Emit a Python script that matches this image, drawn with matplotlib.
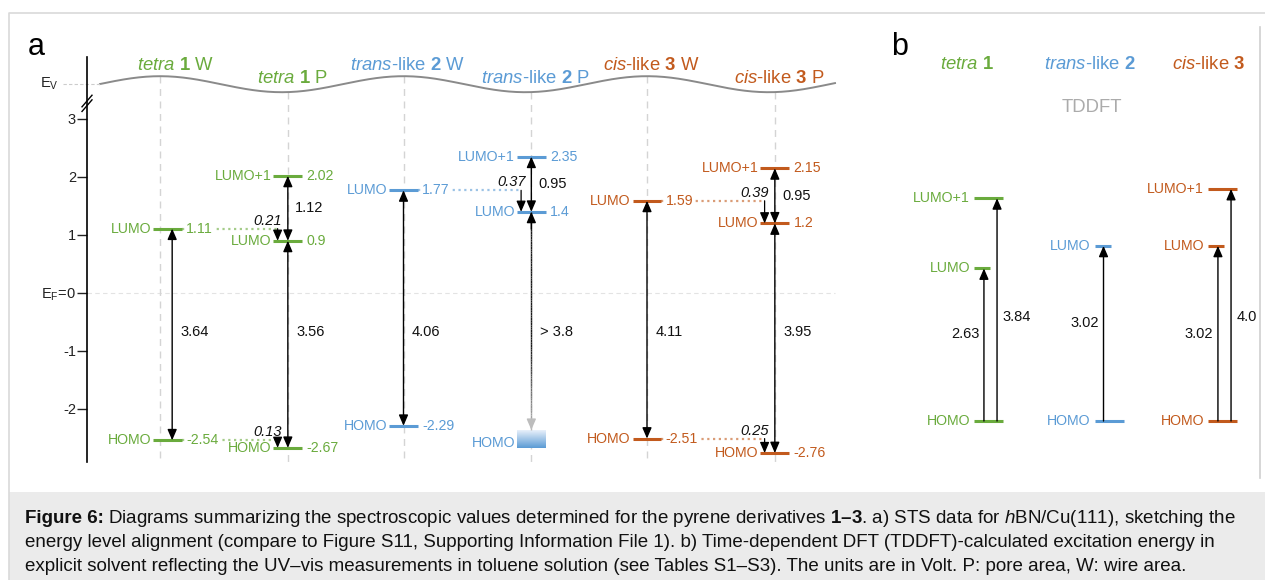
import numpy as np
import matplotlib
matplotlib.use("Agg")
import matplotlib.pyplot as plt
from matplotlib.colors import LinearSegmentedColormap
from matplotlib.collections import LineCollection

plt.rcParams["font.family"] = ["Liberation Sans", "DejaVu Sans"]
plt.rcParams["mathtext.fontset"] = "custom"
plt.rcParams["mathtext.rm"] = "Liberation Sans"
plt.rcParams["mathtext.it"] = "Liberation Sans:italic"
plt.rcParams["mathtext.bf"] = "Liberation Sans:bold"

# ---- panel a: STS data, levels in V relative to E_F ----
sts_titles = [r"$\mathit{tetra}$ $\mathbf{1}$ W", r"$\mathit{tetra}$ $\mathbf{1}$ P",
              r"$\mathit{trans}$-like $\mathbf{2}$ W", r"$\mathit{trans}$-like $\mathbf{2}$ P",
              r"$\mathit{cis}$-like $\mathbf{3}$ W", r"$\mathit{cis}$-like $\mathbf{3}$ P"]
sts_lumo = [1.11, 0.9, 1.77, 1.4, 1.59, 1.2]
sts_homo = [-2.54, -2.67, -2.29, None, -2.51, -2.76]
sts_lumo1 = [None, 2.02, None, 2.35, None, 2.15]
sts_gap = ["3.64", "3.56", "4.06", "> 3.8", "4.11", "3.95"]
sts_lumo1_gap = [None, "1.12", None, "0.95", None, "0.95"]
lumo_shift = ["0.21", "0.37", "0.39"]
homo_shift = ["0.13", None, "0.25"]
trans_p_homo_band = [-2.36, -2.67]

# ---- panel b: TDDFT excitation energies (V, from HOMO) ----
td_titles = [r"$\mathit{tetra}$ $\mathbf{1}$", r"$\mathit{trans}$-like $\mathbf{2}$",
             r"$\mathit{cis}$-like $\mathbf{3}$"]
td_lumo = [2.63, 3.02, 3.02]
td_lumo1 = [3.84, None, 4.0]
td_lumo1_label = ["3.84", None, "4.0"]

colors = ["#6AAB3D", "#5B9BD5", "#C25A1D"]

W, H = 1265, 580
fig = plt.figure(figsize=(W / 100, H / 100), dpi=100)
renderer = fig.canvas.get_renderer()


def frac(x0, x1, y0, y1):
    return [x0 / W, 1 - y1 / H, (x1 - x0) / W, (y1 - y0) / H]


# background: frame, caption box, panel letters
bg = fig.add_axes([0, 0, 1, 1])
bg.set_xlim(0, W)
bg.set_ylim(H, 0)
bg.axis("off")
bg.add_patch(plt.Rectangle((9, 492), W - 9, H - 492, fc="#ebebeb", ec="none"))
bg.plot([9, 9, W], [H, 13, 13], color="#d9d9d9", lw=1.2)
bg.plot([1260, 1260], [27, 478], color="#cfcfcf", lw=1.2)
bg.text(36, 47, "a", fontsize=22, ha="center", va="center")
bg.text(900, 47, "b", fontsize=22, ha="center", va="center")

cap_fs = 13.5
head = bg.text(25, 523, "Figure 6:", fontsize=cap_fs, fontweight="bold", ha="left", va="baseline",
               color="#111111")
hw_px = head.get_window_extent(renderer=renderer).width
caption = [
    r"Diagrams summarizing the spectroscopic values determined for the pyrene derivatives "
    r"$\mathbf{1}$$\mathbf{–}$$\mathbf{3}$. a) STS data for $\mathit{h}$BN/Cu(111), sketching the",
    "energy level alignment (compare to Figure S11, Supporting Information File 1). b) Time-dependent DFT (TDDFT)-calculated excitation energy in",
    "explicit solvent reflecting the UV–vis measurements in toluene solution (see Tables S1–S3). The units are in Volt. P: pore area, W: wire area.",
]
for k, line in enumerate(caption):
    xs0 = 25 + (hw_px + 4 if k == 0 else 0)
    bg.text(xs0, 523 + 24 * k, line, fontsize=cap_fs, ha="left", va="baseline", color="#111111")

arrow2 = "<|-|>,head_length=0.65,head_width=0.28"
arrow1 = "-|>,head_length=0.65,head_width=0.28"

# ================= panel a =================
PX_E = 58.0
PX_A = 121.75
ax = fig.add_axes(frac(87, 845, 30, 470))
ax.patch.set_alpha(0)
for s in ["top", "right", "bottom"]:
    ax.spines[s].set_visible(False)
ax.spines["left"].set_bounds(-2.92, 4.07)
ax.spines["left"].set_linewidth(1.2)
ax.set_xticks([])
ax.set_yticks([-2, -1, 0, 1, 2, 3])
ax.set_yticklabels(["-2", "-1", r"E$_\mathrm{F}$=0", "1", "2", "3"])
ax.tick_params(axis="y", direction="out", length=7, width=1, pad=1, labelsize=10.5, colors="#222222")

x0 = (87 - 160) / PX_A
col_x = [0, 1.05, 2, 3.05, 4, 5.05]
bar_dx = [0.06, 0, 0, 0, 0, 0]
arr_dx = [0.1, 0, 0, 0, 0, 0]
hw = 0.119

# vacuum level wave, E_V and E_F guides, axis break
xw = np.linspace((100 - 160) / PX_A, (835 - 160) / PX_A, 400)
wave = 3.60 + 0.138 * np.cos(np.pi * xw)
ax.plot(xw, wave, color="#8a8a8a", lw=1.4, zorder=2)
ax.plot([(63 - 160) / PX_A, xw[0]], [wave[0], wave[0]], color="#cccccc", lw=0.8,
        ls=(0, (3, 2)), clip_on=False)
ax.text((59 - 160) / PX_A, wave[0], r"E$_\mathrm{V}$", ha="right", va="center", fontsize=10.5,
        color="#222222", clip_on=False)
ax.plot([x0, xw[-1]], [0, 0], color="#e3e3e3", lw=0.8, ls=(0, (4, 3)), zorder=0)
for dy in (-0.04, 0.04):
    ax.plot([x0 - 0.041, x0 + 0.041], [3.27 + dy - 0.1, 3.27 + dy + 0.1], color="black", lw=1.0,
            clip_on=False)

for i, x in enumerate(col_x):
    ax.plot([x, x], [3.60 + 0.138 * np.cos(np.pi * x), -2.92], color="#d4d4d4", lw=1.0,
            ls=(0, (5, 4)), zorder=0)

for i, x in enumerate(col_x):
    c = colors[i // 2]
    xb = x + bar_dx[i]
    xa = x + arr_dx[i]
    ty = 3.93 if i % 2 == 0 else 3.69
    ax.text(x + (0.127 if i == 0 else 0.035), ty, sts_titles[i], color=c, fontsize=13.3,
            ha="center", va="center")
    levels = [("LUMO", sts_lumo[i]), ("HOMO", sts_homo[i]), ("LUMO+1", sts_lumo1[i])]
    for name, e in levels:
        if e is None:
            continue
        ax.plot([xb - hw, xb + hw], [e, e], color=c, lw=2.2, solid_capstyle="butt", zorder=3)
        ax.text(xb - hw - 0.015, e, name, color=c, fontsize=10.2, ha="right", va="center", zorder=5)
        ax.text(xb + hw + 0.035, e, f"{e:g}", color=c, fontsize=10.2, ha="left", va="center", zorder=5,
                bbox=dict(fc="white", ec="none", pad=1.0))
    # HOMO-LUMO gap
    if sts_homo[i] is not None:
        ax.annotate("", xy=(xa, sts_lumo[i]), xytext=(xa, sts_homo[i]),
                    arrowprops=dict(arrowstyle=arrow2, color="black", lw=1.0, shrinkA=0, shrinkB=0),
                    zorder=4)
    ax.text(xa + 0.07, -0.67, sts_gap[i], fontsize=10.5, ha="left", va="center", color="#111111")
    if sts_lumo1[i] is not None:
        ax.annotate("", xy=(xa, sts_lumo1[i]), xytext=(xa, sts_lumo[i]),
                    arrowprops=dict(arrowstyle=arrow2, color="black", lw=1.0, shrinkA=0, shrinkB=0),
                    zorder=4)
        ax.text(xa + 0.06, (sts_lumo1[i] + sts_lumo[i]) / 2, sts_lumo1_gap[i], fontsize=10.5,
                ha="left", va="center", color="#111111")

# level shifts W -> P
for j in range(3):
    iw, ip = 2 * j, 2 * j + 1
    c = colors[j]
    xs = col_x[ip] - hw + 0.035
    for shift, ew, ep in [(lumo_shift[j], sts_lumo[iw], sts_lumo[ip]),
                          (homo_shift[j], sts_homo[iw], sts_homo[ip])]:
        if shift is None:
            continue
        ax.plot([col_x[iw] + bar_dx[iw] + hw, xs], [ew, ew], color=c, alpha=0.6, lw=1.6,
                ls=(0, (1, 1.6)), zorder=1)
        ax.annotate("", xy=(xs, ep), xytext=(xs, ew),
                    arrowprops=dict(arrowstyle=arrow1, color="black", lw=0.9, shrinkA=0, shrinkB=0),
                    zorder=4)
        ax.text(xs + 0.035, ew + 0.07, shift, fontsize=10.5, style="italic", ha="right",
                va="baseline", color="#111111")

# trans-like 2 P: HOMO band and fading gap arrow
xt = col_x[3]
band_top, band_bot = trans_p_homo_band
cmap = LinearSegmentedColormap.from_list("band", ["#e8f0fa", colors[1]])
ax.imshow(np.linspace(1, 0, 60)[:, None], cmap=cmap, aspect="auto", origin="lower",
          extent=[xt - hw, xt + hw, band_bot, band_top], zorder=3)
ax.text(xt - hw - 0.015, band_bot + 0.08, "HOMO", color=colors[1], fontsize=10.2, ha="right",
        va="center", zorder=5)
ys = np.linspace(sts_lumo[3], band_top, 90)
segs = [[(xt, ys[k]), (xt, ys[k + 1])] for k in range(len(ys) - 1)]
t = np.clip((sts_lumo[3] - ys[:-1] - 2.3) / (sts_lumo[3] - band_top - 2.3), 0, 1)
seg_cols = [(0.1 + 0.65 * v, 0.1 + 0.65 * v, 0.1 + 0.65 * v) for v in t]
ax.add_collection(LineCollection(segs, colors=seg_cols, linewidths=1.0, zorder=4))
ax.annotate("", xy=(xt, sts_lumo[3]), xytext=(xt, sts_lumo[3] - 0.3),
            arrowprops=dict(arrowstyle=arrow1, color="black", lw=1.0, shrinkA=0, shrinkB=0), zorder=4)
ax.annotate("", xy=(xt, band_top), xytext=(xt, band_top + 0.12),
            arrowprops=dict(arrowstyle=arrow1, color="#bdbdbd", lw=1.0, shrinkA=0, shrinkB=0), zorder=4)
ax.set_xlim(x0, (845 - 160) / PX_A)
ax.set_ylim((293 - 470) / PX_E, (293 - 30) / PX_E)

# ================= panel b =================
PX_B = 117.0
axb = fig.add_axes(frac(890, 1258, 30, 470))
axb.patch.set_alpha(0)
axb.set_xlim((890 - 988.5) / PX_B, (1258 - 988.5) / PX_B)
axb.set_ylim((421 - 470) / PX_E, (421 - 30) / PX_E)
axb.axis("off")

td_x = [0, 1.03, 2.0]
title_dx = [-0.18, -0.16, -0.12]
hb = 0.124
axb.text(0.885, 5.41, "TDDFT", fontsize=13.3, color="#ababab", ha="center", va="center")
for i, x in enumerate(td_x):
    c = colors[i]
    left = x - hb
    axb.text(x + title_dx[i], 6.14, td_titles[i], color=c, fontsize=13.3, ha="center", va="center")
    axb.plot([left, left + 2 * hb], [0, 0], color=c, lw=2.2, solid_capstyle="butt")
    axb.text(left - 0.034, 0, "HOMO", color=c, fontsize=10.2, ha="right", va="center")
    axb.plot([left, left + 0.137], [td_lumo[i], td_lumo[i]], color=c, lw=2.2, solid_capstyle="butt")
    axb.text(left - 0.034, td_lumo[i], "LUMO", color=c, fontsize=10.2, ha="right", va="center")
    xa1 = left + (0.085 if i != 1 else 0.077)
    axb.annotate("", xy=(xa1, td_lumo[i]), xytext=(xa1, 0),
                 arrowprops=dict(arrowstyle=arrow1, color="black", lw=1.0, shrinkA=0, shrinkB=0))
    gy = 1.69 if i == 1 else 1.50
    axb.text(xa1 - 0.04, gy, f"{td_lumo[i]:.2f}", fontsize=10.5, ha="right", va="center",
             color="#111111")
    if td_lumo1[i] is not None:
        axb.plot([left, left + 2 * hb], [td_lumo1[i], td_lumo1[i]], color=c, lw=2.2,
                 solid_capstyle="butt")
        axb.text(left - 0.034, td_lumo1[i], "LUMO+1", color=c, fontsize=10.2, ha="right", va="center")
        xa2 = left + 0.197
        axb.annotate("", xy=(xa2, td_lumo1[i]), xytext=(xa2, 0),
                     arrowprops=dict(arrowstyle=arrow1, color="black", lw=1.0, shrinkA=0, shrinkB=0))
        axb.text(xa2 + 0.05, 1.79, td_lumo1_label[i], fontsize=10.5, ha="left", va="center",
                 color="#111111")

fig.savefig("out.png", dpi=100)
